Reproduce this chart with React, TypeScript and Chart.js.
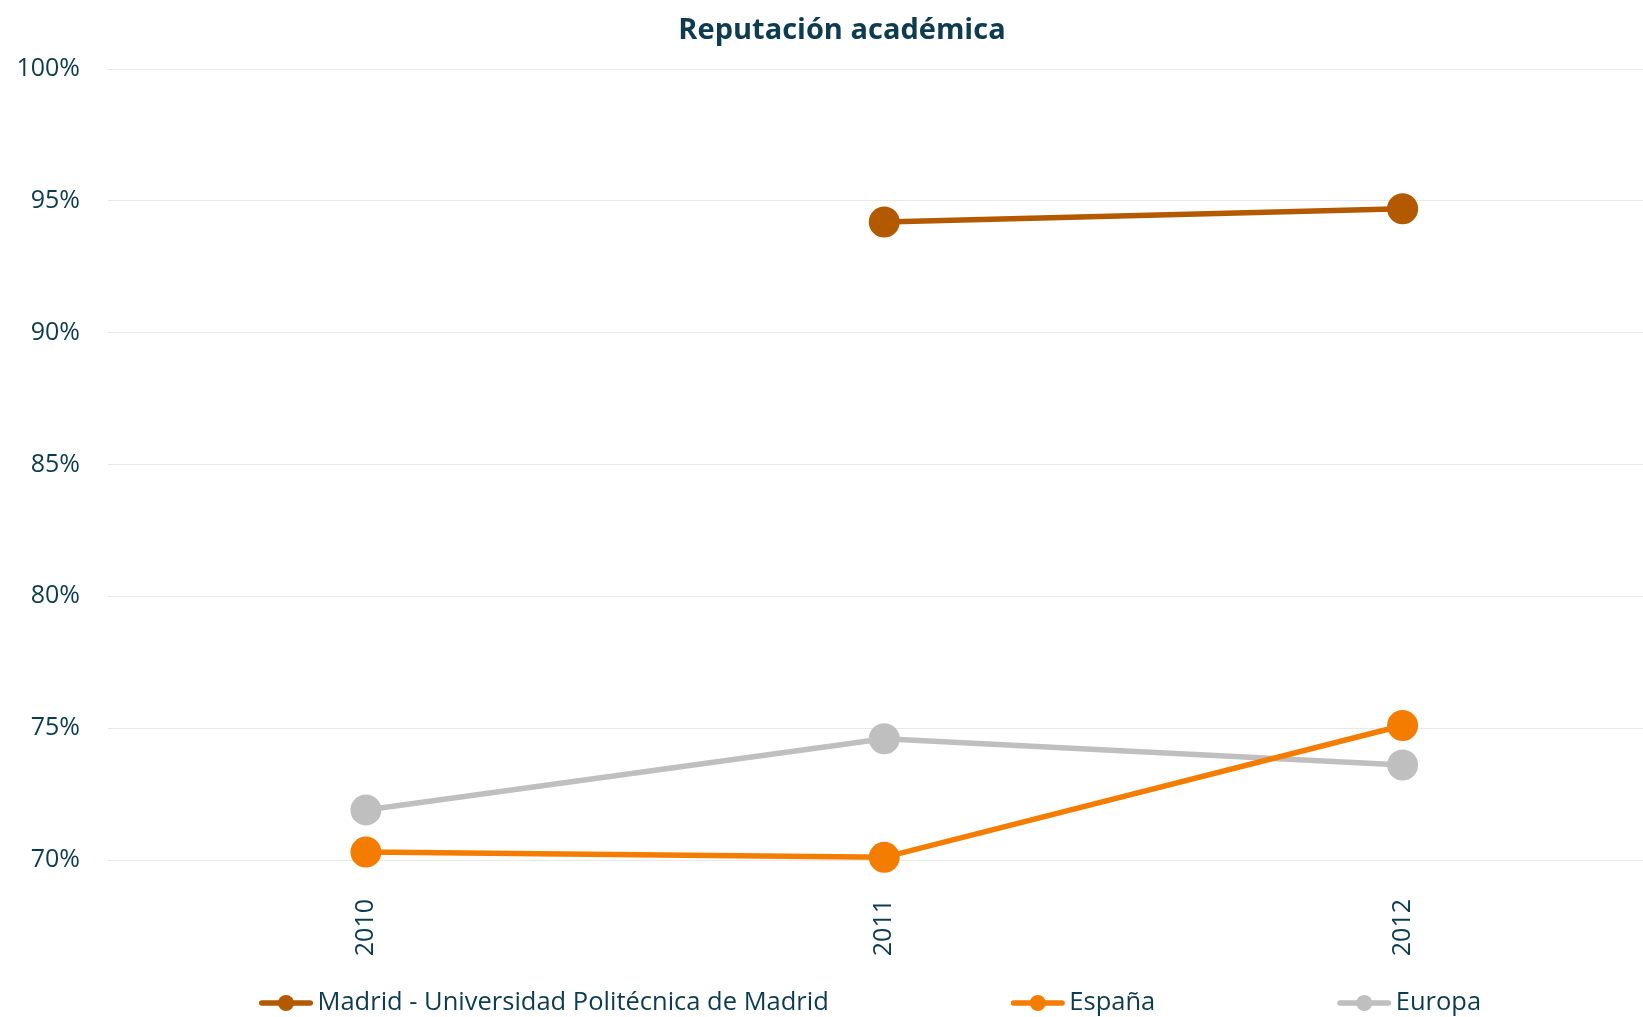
import React, { useEffect, useRef } from "react";
import { Chart, registerables } from "chart.js";

Chart.register(...registerables);

const titleText = "Reputación académica";
const years = ["2010", "2011", "2012"];
const seriesNames = ["Madrid - Universidad Politécnica de Madrid", "España", "Europa"];
const madridUPM: (number | null)[] = [null, 94.2, 94.7];
const espana: (number | null)[] = [70.3, 70.1, 75.1];
const europa: (number | null)[] = [71.9, 74.6, 73.6];
const seriesValues = [madridUPM, espana, europa];
const seriesColors = ["#B35A00", "#F47D00", "#BFBFBF"];
const yMin = 70;
const yMax = 100;
const yStep = 5;

const textColor = "#0D3B4F";
const fontFamily = "'Open Sans', 'DejaVu Sans', sans-serif";

// canvas is a little wider than the window so the plot runs to the right edge
const CANVAS_W = 1684;
const CANVAS_H = 1017;

const legendLayout = { startX: 259, centerY: 1003, markerW: 54, textGap: 4.5, itemGap: 182, dotR: 8, lineW: 5.5, fontSize: 25.5 };

const lineLegendPlugin = {
  id: "lineLegend",
  afterDraw(chart: any) {
    const ctx = chart.ctx as CanvasRenderingContext2D;
    const L = legendLayout;
    ctx.save();
    ctx.font = `${L.fontSize}px ${fontFamily}`;
    ctx.textBaseline = "middle";
    ctx.textAlign = "left";
    let x = L.startX;
    const y = L.centerY;
    chart.data.datasets.forEach((ds: any) => {
      const color = ds.borderColor as string;
      ctx.strokeStyle = color;
      ctx.lineWidth = L.lineW;
      ctx.lineCap = "round";
      ctx.beginPath();
      ctx.moveTo(x + L.lineW / 2, y);
      ctx.lineTo(x + L.markerW - L.lineW / 2, y);
      ctx.stroke();
      ctx.fillStyle = color;
      ctx.beginPath();
      ctx.arc(x + L.markerW / 2, y, L.dotR, 0, Math.PI * 2);
      ctx.fill();
      ctx.fillStyle = textColor;
      const tx = x + L.markerW + L.textGap;
      ctx.fillText(ds.label, tx, y);
      x = tx + ctx.measureText(ds.label).width + L.itemGap;
    });
    ctx.restore();
  },
};

export default function App() {
  const ref = useRef<HTMLCanvasElement>(null);

  useEffect(() => {
    document.documentElement.style.overflow = "hidden";
    document.body.style.margin = "0";
    document.body.style.overflow = "hidden";
    const canvas = ref.current!;

    const chart = new Chart(canvas, {
      type: "line",
      data: {
        datasets: seriesNames.map((name, i) => ({
          label: name,
          data: years.map((_, j) => ({ x: j, y: seriesValues[i][j] })),
          borderColor: seriesColors[i],
          backgroundColor: seriesColors[i],
          borderWidth: 5.5,
          pointRadius: 15.5,
          pointHoverRadius: 15.5,
          pointBackgroundColor: seriesColors[i],
          pointBorderColor: seriesColors[i],
          pointBorderWidth: 0,
          tension: 0,
          spanGaps: false,
          clip: false,
        })),
      },
      options: {
        animation: false,
        responsive: false,
        devicePixelRatio: 1,
        layout: { padding: { left: 0, right: 0, top: 0, bottom: 57 } },
        scales: {
          x: {
            type: "linear",
            min: -0.4976,
            max: 2.513,
            afterBuildTicks: (scale: any) => {
              scale.ticks = years.map((_, i) => ({ value: i }));
            },
            afterFit: (scale: any) => {
              scale.height = 100;
            },
            grid: { display: false, drawTicks: false },
            border: { display: false },
            ticks: {
              autoSkip: false,
              minRotation: 90,
              maxRotation: 90,
              padding: 39,
              color: textColor,
              font: { family: fontFamily, size: 25 },
              callback: (v: any) => years[v as number] ?? "",
            },
          },
          y: {
            min: yMin,
            max: yMax,
            afterFit: (scale: any) => {
              scale.width = 108;
            },
            grid: { color: "#E8E8E8", lineWidth: 1, drawTicks: false },
            border: { display: false },
            ticks: {
              stepSize: yStep,
              padding: 28,
              color: textColor,
              font: { family: fontFamily, size: 25 },
              callback: (v: any) => `${v}%`,
            },
          },
        },
        plugins: {
          title: {
            display: true,
            text: titleText,
            color: textColor,
            font: { family: fontFamily, size: 29, weight: "bold" },
            padding: { top: 13, bottom: 21.2 },
          },
          legend: { display: false },
          tooltip: { enabled: false },
        },
      },
      plugins: [lineLegendPlugin],
    } as any);

    return () => chart.destroy();
  }, []);

  return (
    <canvas
      ref={ref}
      width={CANVAS_W}
      height={CANVAS_H}
      style={{ display: "block", width: `${CANVAS_W}px`, height: `${CANVAS_H}px` }}
    />
  );
}
